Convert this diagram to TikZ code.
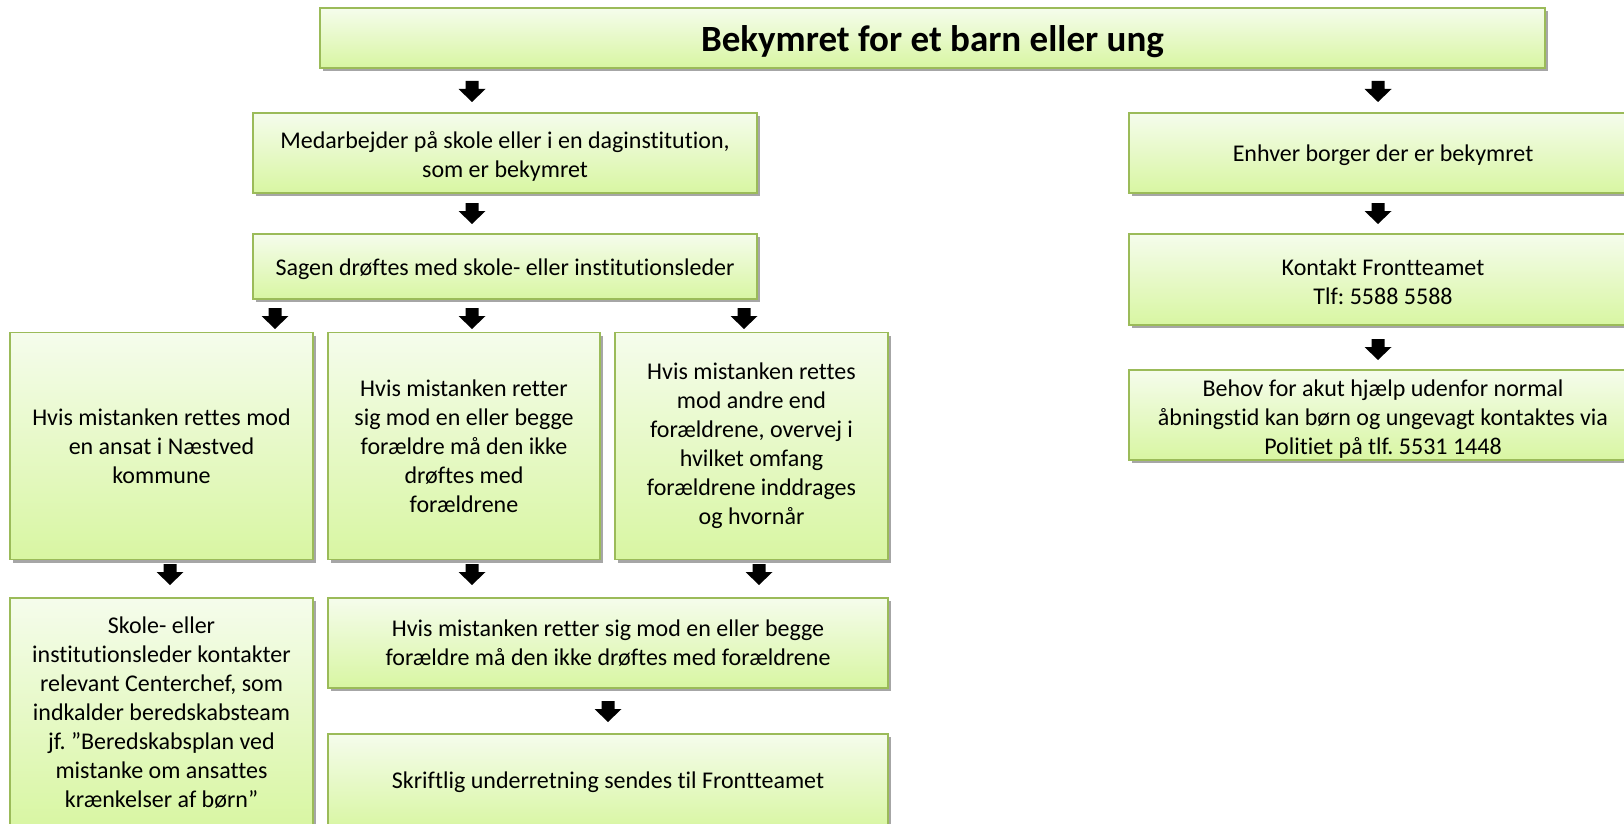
\documentclass[tikz,border=0pt]{standalone}
\usepackage{fontspec}
\setmainfont{Carlito}[RawFeature={-liga}]
\usetikzlibrary{shadows}
\definecolor{boxtop}{RGB}{245,252,236}
\definecolor{boxbot}{RGB}{216,246,162}
\definecolor{boxline}{RGB}{155,187,89}
\frenchspacing
\newcommand{\topstrut}[1]{\rule{0pt}{#1}}
\tikzset{
  box/.style={draw=boxline, line width=1.6pt, top color=boxtop, bottom color=boxbot,
    drop shadow={shadow xshift=2.5pt, shadow yshift=-3pt, opacity=0.35, fill=black},
    align=center, font=\fontsize{24}{29}\selectfont, inner sep=0pt, text=black},
  titlebox/.style={box, font=\fontsize{37}{42}\selectfont\bfseries},
  darrow/.pic={\fill[black] (-6.5,0) -- (6.5,0) -- (6.5,8) -- (13.5,8) -- (0,21) -- (-13.5,8) -- (-6.5,8) -- cycle;}
}
\begin{document}
\begin{tikzpicture}[x=1pt,y=-1pt]
\useasboundingbox (0,0) rectangle (1624,824);
% boxes
\node[titlebox, minimum width=1225, minimum height=60] (top) at (932.5,38) {\topstrut{34pt}Bekymret for et barn eller ung};
\node[box, minimum width=504, minimum height=80] (m) at (505,153) {\topstrut{23pt}Medarbejder på skole eller i en daginstitution,\\som er bekymret};
\node[box, minimum width=504, minimum height=65] (s) at (505,266.5) {\topstrut{23pt}Sagen drøftes med skole- eller institutionsleder};
\node[box, minimum width=303, minimum height=227] (b1) at (161.5,446) {Hvis mistanken rettes mod\\en ansat i Næstved\\kommune};
\node[box, minimum width=272, minimum height=227] (b2) at (464,446) {Hvis mistanken retter\\sig mod en eller begge\\forældre må den ikke\\drøftes med\\forældrene};
\node[box, minimum width=273, minimum height=227] (b3) at (751.5,446) {Hvis mistanken rettes\\mod andre end\\forældrene, overvej i\\hvilket omfang\\forældrene inddrages\\og hvornår};
\node[box, minimum width=303, minimum height=230] (c1) at (161.5,713) {Skole- eller\\institutionsleder kontakter\\relevant Centerchef, som\\indkalder beredskabsteam\\jf. ”Beredskabsplan ved\\mistanke om ansattes\\krænkelser af børn”};
\node[box, minimum width=560, minimum height=90] (c2) at (608,643) {Hvis mistanken retter sig mod en eller begge\\forældre må den ikke drøftes med forældrene};
\node[box, minimum width=560, minimum height=96] (c3) at (608,782) {Skriftlig underretning sendes til Frontteamet};
\node[box, minimum width=508, minimum height=80] (e) at (1383,153) {\topstrut{21pt}Enhver borger der er bekymret};
\node[box, minimum width=508, minimum height=91] (k) at (1383,279.5) {\topstrut{21pt}Kontakt Frontteamet\\Tlf: 5588 5588};
\node[box, minimum width=508, minimum height=90] (h) at (1383,415) {\topstrut{25pt}Behov for akut hjælp udenfor normal\\åbningstid kan børn og ungevagt kontaktes via\\Politiet på tlf. 5531 1448};
% arrows
\pic (a1) at (472,81) {darrow};
\pic (a2) at (1378,81) {darrow};
\pic (a3) at (472,203) {darrow};
\pic (a4) at (1378,203) {darrow};
\pic (a5) at (275,308) {darrow};
\pic (a6) at (472,308) {darrow};
\pic (a7) at (744,308) {darrow};
\pic (a8) at (1378,339) {darrow};
\pic (a9) at (170,564) {darrow};
\pic (a10) at (472,564) {darrow};
\pic (a11) at (759,564) {darrow};
\pic (a12) at (608,701) {darrow};
\end{tikzpicture}
\end{document}
